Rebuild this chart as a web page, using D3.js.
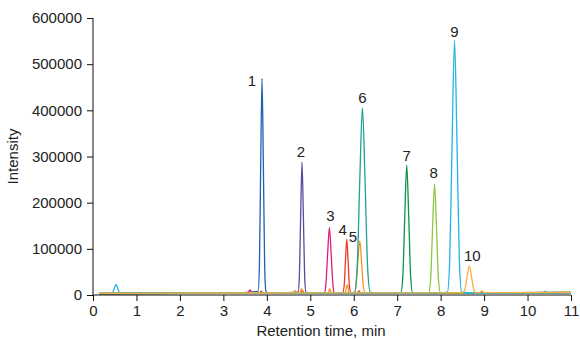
<!DOCTYPE html>
<html><head><meta charset="utf-8">
<script src="https://cdn.jsdelivr.net/npm/d3@7"></script>
<style>
body{margin:0;background:#fff;}
svg text{font-family:"Liberation Sans",Arial,Helvetica,sans-serif;fill:#222;}
</style></head>
<body><svg id="c" width="580" height="340"></svg>
<script>
// Peak labels and colours
const compounds = ["1","2","3","4","5","6","7","8","9","10"];
const colors = ["#1c62b0","#5b4b9d","#e4197f","#ee3a26","#f7941d","#1ea293","#0f9248","#8dc63f","#27b2e6","#fbb040"];
// Apex of each labelled peak [time, intensity]
const apexTime = [3.89,4.81,5.44,5.84,6.14,6.20,7.22,7.86,8.32,8.66];
const apexIntensity = [469000,288000,146000,121000,117000,406000,281000,240000,552000,63000];

// Traces: [time (min), intensity]
const trace1 = [[0.15,3000],[1.5,3600],[3.0,3800],[3.80,8000],[3.83,66000],[3.86,286000],[3.89,469000],[3.92,286000],[3.95,66000],[3.98,8000],[4.05,4000],[6,4300],[8,4600],[10,5000],[11,5200]];
const trace2 = [[0.15,3200],[2,3800],[4.0,3900],[4.72,6000],[4.75,43000],[4.78,177000],[4.81,288000],[4.84,177000],[4.87,43000],[4.90,6000],[5.0,4200],[7,4500],[9,4800],[11,5600]];
const trace3 = [[0.15,3000],[2,3500],[3.56,3800],[3.60,10000],[3.62,11000],[3.65,3800],[5.33,4200],[5.36,24000],[5.40,90000],[5.44,146000],[5.48,90000],[5.52,24000],[5.55,4200],[8,4600],[11,5000]];
const trace4 = [[0.15,3300],[2,3700],[3.83,4000],[3.87,9000],[3.91,4000],[4.78,4100],[4.82,10000],[4.86,4100],[5.74,4300],[5.78,20000],[5.81,75000],[5.84,121000],[5.87,75000],[5.90,20000],[5.94,4300],[6.08,4400],[6.12,9000],[6.16,4400],[8.9,4600],[8.95,8000],[9.0,4600],[11,5200]];
const trace5 = [[0.15,3500],[2,4000],[4.6,4200],[4.65,10000],[4.70,4200],[4.76,4200],[4.80,14000],[4.84,4200],[5.41,4300],[5.45,13000],[5.49,4300],[5.80,4400],[5.85,22000],[5.90,4400],[6.02,4500],[6.06,28000],[6.10,80000],[6.14,117000],[6.18,72000],[6.22,20000],[6.26,4600],[8,4900],[11,5400]];
const trace6 = [[0.15,3200],[2,3600],[5.9,4000],[6.02,6000],[6.08,60000],[6.14,250000],[6.20,406000],[6.26,250000],[6.32,60000],[6.38,6000],[6.5,4200],[9,4600],[11,5000]];
const trace7 = [[0.15,3000],[3,3800],[7.0,4200],[7.085,5000],[7.13,40000],[7.175,171000],[7.22,281000],[7.265,171000],[7.31,40000],[7.355,5000],[7.5,4300],[11,5600]];
const trace8 = [[0.15,3400],[3,3900],[7.6,4300],[7.725,5000],[7.77,34000],[7.815,146000],[7.86,240000],[7.905,146000],[7.95,34000],[7.995,5000],[8.1,4400],[11,5300]];
const trace9 = [[0.15,3600],[0.44,4000],[0.49,14000],[0.53,23000],[0.57,14000],[0.62,4000],[3,4000],[8.0,4300],[8.155,6000],[8.21,77000],[8.265,337000],[8.32,552000],[8.375,337000],[8.43,77000],[8.485,6000],[8.6,4300],[10.35,4800],[10.4,8000],[10.45,4800],[11,5000]];
const trace10 = [[0.15,3700],[2,4200],[8.5,4600],[8.56,13000],[8.61,40000],[8.66,63000],[8.71,40000],[8.76,13000],[8.81,5000],[8.90,5000],[8.95,9000],[9.0,5000],[11,5500]];
const traces = [trace1,trace2,trace3,trace4,trace5,trace6,trace7,trace8,trace9,trace10];

const xTicks = [0,1,2,3,4,5,6,7,8,9,10,11];
const yTicks = [0,100000,200000,300000,400000,500000,600000];
const xTitle = "Retention time, min";
const yTitle = "Intensity";

const W = 580, H = 340;
const m = {left:93, right:9, top:18, bottom:45};
const svg = d3.select("#c");
const x = d3.scaleLinear().domain([0,11]).range([m.left, W - m.right]);
const y = d3.scaleLinear().domain([0,600000]).range([H - m.bottom, m.top]);

const line = d3.line().x(d=>x(d[0])).y(d=>y(d[1])).curve(d3.curveMonotoneX);
const g = svg.append("g");
traces.forEach((t,i)=>{
  g.append("path").datum(t).attr("d",line).attr("fill","none")
   .attr("stroke",colors[i]).attr("stroke-width",1.3).attr("stroke-linejoin","round");
});

// axes
const xAxis = svg.append("g").attr("transform",`translate(0,${H-m.bottom})`)
  .call(d3.axisBottom(x).tickValues(xTicks).tickSize(6).tickPadding(4).tickFormat(d3.format("d")));
const yAxis = svg.append("g").attr("transform",`translate(${m.left},0)`)
  .call(d3.axisLeft(y).tickValues(yTicks).tickSize(6).tickPadding(5).tickFormat(d3.format("d")));
[xAxis,yAxis].forEach(a=>{
  a.select(".domain").attr("stroke","#111").attr("stroke-width",1);
  a.selectAll(".tick line").attr("stroke","#111");
  a.selectAll(".tick text").style("font-size","15px").attr("fill","#222");
});
yAxis.select(".domain").attr("d",`M0,${H-m.bottom}V${m.top}`);
xAxis.select(".domain").attr("d",`M${m.left},0H${W-m.right}`);

svg.append("text").attr("x",321).attr("y",336)
  .attr("text-anchor","middle").style("font-size","15px").text(xTitle);
svg.append("text").attr("transform",`translate(18,${(m.top+H-m.bottom)/2}) rotate(-90)`)
  .attr("text-anchor","middle").style("font-size","15px").text(yTitle);

// peak labels (nudges in px relative to apex)
const labelNudge = [[-10,2],[-1,-11],[1,-12],[-4,-10],[-7,-4],[0,-10],[0,-10],[-1,-12],[0,-9],[3,-10]];
compounds.forEach((c,i)=>{
  svg.append("text").attr("x",x(apexTime[i])+labelNudge[i][0])
    .attr("y",y(apexIntensity[i])+labelNudge[i][1])
    .attr("text-anchor","middle").attr("dominant-baseline","central")
    .style("font-size","15px").text(c);
});
</script></body></html>
